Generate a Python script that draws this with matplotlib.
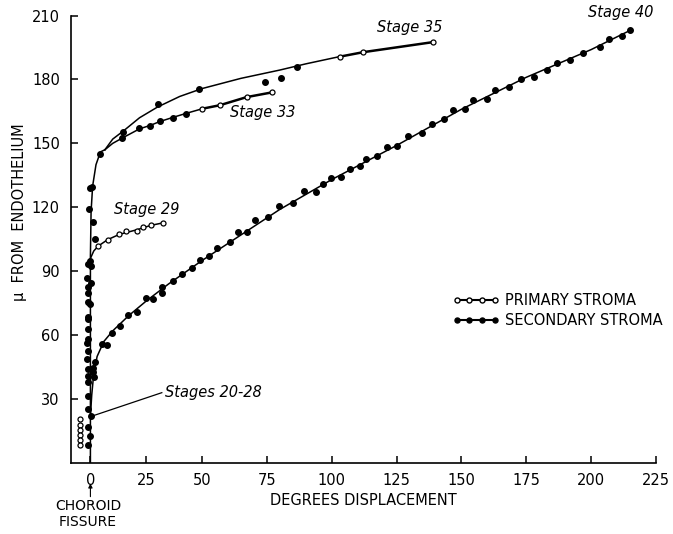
import numpy as np
import matplotlib
matplotlib.use("Agg")
import matplotlib.pyplot as plt
from matplotlib.lines import Line2D

# ---- data (degrees displacement, microns from endothelium) ----
# secondary stroma points clustered on the choroid fissure (stages 20-28 ...)
fissure_x = [0.0, -0.5, 1.3, 1.9, -0.2, -1.2, 0.2, -1.7, 0.2, -1.2, -1.2, -1.0, -0.2,
             -1.2, -1.0, -1.0, -1.7, -1.0, -1.2, -1.7, 1.0, -1.0, 1.7, -1.0, -1.2,
             -1.2, -1.0, 0.2, -1.2, -0.2, -1.2]
fissure_y = [129, 119, 113, 105, 94.7, 93.2, 92.4, 87, 84.6, 82.8, 79.6, 75.6, 74.5,
             68.3, 67.8, 62.8, 56.5, 58.4, 52.6, 49, 44.8, 44, 40.2, 40.9, 37.8,
             31.5, 25.3, 22.2, 16.8, 12.8, 8.5]

# primary stroma, stages 20-28 (open, left of fissure)
early_x = [-4.7, -4.7, -4.7, -4.7, -4.7, -4.7]
early_y = [20.5, 18.0, 15.7, 13.3, 11.0, 8.6]

# stage 29
s29_x = [3.5, 7.7, 12.9, 15.8, 21.0, 23.4, 27.0, 32.6]
s29_y = [101.8, 104.8, 107.3, 108.8, 109.1, 110.8, 111.9, 112.7]
s29_curve_x = [0, 1.5, 3.5, 7.7, 13, 21, 27, 32.6]
s29_curve_y = [96, 99.5, 101.8, 104.8, 107.3, 109.5, 111.5, 112.7]

# stage 33
s33_sec_x = [14.3, 21.9, 26.7, 31.2, 37.1, 42.8]
s33_sec_y = [152.5, 157.0, 158.3, 160.3, 162.0, 164.0]
s33_pri_x = [49.9, 56.9, 67.2, 76.9]
s33_pri_y = [166.2, 167.9, 171.7, 173.9]
s33_curve_x = [6.5, 10, 14.3, 22, 27, 31, 37, 43, 50]
s33_curve_y = [147, 150, 152.5, 156.8, 158.5, 160.2, 162.2, 164.1, 166.2]

# stage 35
s35_sec_x = [0.5, 4.3, 14.7, 30.4, 48.8, 86.8, 74.2, 80.6]
s35_sec_y = [129.4, 145.2, 155.3, 168.4, 175.5, 186.0, 179.0, 180.9]
s35_pri_x = [103.2, 112.2, 139.0]
s35_pri_y = [190.7, 192.8, 197.5]
s35_curve_x = [6.5, 10, 15, 22, 30, 40, 50, 65, 80, 90, 103]
s35_curve_y = [147, 152, 156, 162, 167, 172, 175.7, 180.5, 184.4, 187.3, 190.7]

# trunk along the fissure up to the split of stages 33 / 35
trunk_x = [0, 0, 0.3, 1.0, 2.5, 4.5, 6.5]
trunk_y = [0, 97, 118, 130, 140, 146, 147]

# stage 40
s40_x = [1.3, 2.0, 5.0, 7.3, 9.5, 13.2, 17.0, 20.7, 24.9, 28.2, 31.9, 31.9, 37.1,
         40.9, 45.4, 49.1, 52.8, 55.7, 60.8, 64.0, 67.3, 70.4, 75.5, 79.8, 84.9,
         89.3, 93.9, 96.5, 99.6, 103.5, 107.1, 110.9, 113.2, 117.4, 121.2, 125.3,
         129.6, 134.7, 138.6, 143.1, 146.9, 151.4, 154.3, 159.8, 162.8, 168.3,
         173.0, 178.1, 183.0, 186.9, 192.0, 196.9, 203.3, 206.8, 211.9, 214.9]
s40_y = [42.5, 47.5, 55.7, 55.4, 60.9, 64.3, 69.3, 70.9, 77.3, 76.8, 80.0, 82.8, 85.4,
         88.5, 91.7, 95.1, 97.1, 100.8, 103.6, 108.5, 108.5, 113.9, 115.3, 120.8, 122.1,
         127.5, 127.2, 130.7, 133.8, 134.3, 138.0, 139.6, 142.7, 143.9, 148.2, 148.6,
         153.3, 154.9, 159.2, 161.4, 165.8, 166.1, 170.5, 170.9, 175.1, 176.4,
         180.1, 181.3, 184.5, 187.9, 189.2, 192.6, 195.4, 198.9, 200.4, 203.2]
s40_curve_x = [0, 0.6, 1.5, 3, 6, 10, 17, 25, 35, 50, 65, 80, 100, 125, 150, 175, 200, 215]
s40_curve_y = [22, 32, 42, 50, 57, 62, 69, 76, 84, 95, 107, 119, 133, 149, 166, 181, 194, 203]

x_ticks = [0, 25, 50, 75, 100, 125, 150, 175, 200, 225]
y_ticks = [30, 60, 90, 120, 150, 180, 210]


# the original axis squeezes the 0-50 interval a little
def fwd(x):
    x = np.asarray(x, dtype=float)
    return np.where(x >= 50, x, 50 + (x - 50) * 0.86)


def inv(t):
    t = np.asarray(t, dtype=float)
    return np.where(t >= 50, t, 50 + (t - 50) / 0.86)


plt.rcParams['font.family'] = ['DejaVu Sans']

fig = plt.figure(figsize=(6.73, 5.34), dpi=100)
ax = fig.add_axes([71 / 673, 1 - 463 / 534, 585 / 673, 447.5 / 534])
ax.set_xscale('function', functions=(fwd, inv))

k = 'black'
ms = 4.0
# curves
ax.plot(trunk_x, trunk_y, color=k, lw=1.1)
ax.plot(s29_curve_x, s29_curve_y, color=k, lw=1.1)
ax.plot(s33_curve_x, s33_curve_y, color=k, lw=1.1)
ax.plot(s33_pri_x, s33_pri_y, color=k, lw=1.8)
ax.plot(s35_curve_x, s35_curve_y, color=k, lw=1.1)
ax.plot(s35_pri_x, s35_pri_y, color=k, lw=1.8)
ax.plot(s40_curve_x, s40_curve_y, color=k, lw=1.1)

# secondary stroma (filled)
for xs, ys in [(fissure_x, fissure_y), (s33_sec_x, s33_sec_y),
               (s35_sec_x, s35_sec_y), (s40_x, s40_y)]:
    ax.plot(xs, ys, 'o', color=k, ms=ms, mec=k, zorder=3)

# primary stroma (open)
for xs, ys in [(early_x, early_y), (s29_x, s29_y), (s33_pri_x, s33_pri_y),
               (s35_pri_x, s35_pri_y)]:
    ax.plot(xs, ys, 'o', mfc='white', mec=k, mew=0.9, ms=3.6, zorder=4)

# labels on the curves
lab = dict(fontsize=10.5, style='italic', color=k)
ax.text(130.2, 204.2, 'Stage 35', ha='center', va='center', **lab)
ax.text(211.2, 211.6, 'Stage 40', ha='center', va='center', clip_on=False, **lab)
ax.text(73.5, 164.4, 'Stage 33', ha='center', va='center', **lab)
ax.text(25.4, 119.0, 'Stage 29', ha='center', va='center', **lab)
ax.text(33.4, 33.3, 'Stages 20-28', ha='left', va='center', **lab)
ax.plot([32.0, 0.7], [33.0, 22.0], color=k, lw=0.9)

ax.set_xlim(-8.7, 225)
ax.set_ylim(0, 210)
ax.set_xticks(x_ticks)
ax.set_yticks(y_ticks)
ax.set_xticklabels([str(v) for v in x_ticks])
ax.minorticks_off()
ax.spines['top'].set_visible(False)
ax.spines['right'].set_visible(False)
for s in ['left', 'bottom']:
    ax.spines[s].set_linewidth(1.2)
ax.tick_params(direction='in', length=5, width=1.1, labelsize=10.5, color=k)
ax.tick_params(axis='x', pad=7)
ax.tick_params(axis='y', pad=8)

ax.set_xlabel('DEGREES DISPLACEMENT', fontsize=10.5, labelpad=4)
fig.text(20 / 673, 1 - 212 / 534, 'μ  FROM  ENDOTHELIUM', rotation=90,
         ha='center', va='center', fontsize=10.5)

# choroid fissure marker: small arrow under the 0 label
ax.annotate('', xy=(0, -9.6), xytext=(0, -15.8), xycoords='data',
            arrowprops=dict(arrowstyle='-|>', color=k, lw=0.8, mutation_scale=6,
                            shrinkA=0, shrinkB=0),
            annotation_clip=False)
fig.text(88 / 673, 1 - 514 / 534, 'CHOROID\nFISSURE', ha='center', va='center',
         fontsize=10, linespacing=1.15)

handles = [
    Line2D([], [], color=k, lw=1.5, marker='o', mfc='white', mec=k, ms=3.6),
    Line2D([], [], color=k, lw=1.5, marker='o', mfc=k, mec=k, ms=3.6),
]
ax.legend(handles, ['PRIMARY STROMA', 'SECONDARY STROMA'], loc='upper left',
          bbox_to_anchor=(0.652, 0.38), frameon=False, fontsize=10.5,
          numpoints=4, handlelength=3.2, handletextpad=0.4, labelspacing=0.35,
          borderpad=0, borderaxespad=0)

fig.savefig('out.png', dpi=100)
